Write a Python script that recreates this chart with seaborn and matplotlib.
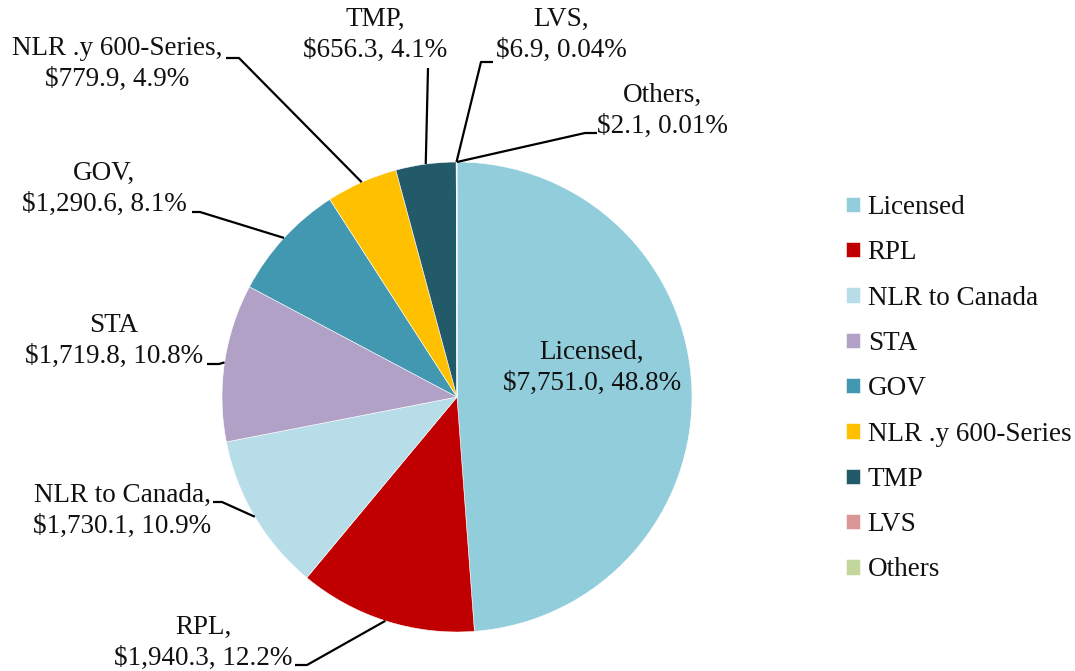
import numpy as np
import matplotlib.pyplot as plt
import seaborn as sns

categories = ['Licensed', 'RPL', 'NLR to Canada', 'STA', 'GOV',
              'NLR .y 600-Series', 'TMP', 'LVS', 'Others']
values = [7751.0, 1940.3, 1730.1, 1719.8, 1290.6, 779.9, 656.3, 6.9, 2.1]
shares = ['48.8%', '12.2%', '10.9%', '10.8%', '8.1%', '4.9%', '4.1%', '0.04%', '0.01%']
colors = ['#92cddc', '#c00000', '#b7dee8', '#b2a1c7', '#4298b0',
          '#ffc000', '#225a6a', '#d99694', '#c3d69b']

sns.set_theme(style='white')
plt.rcParams['font.family'] = ['Liberation Serif', 'DejaVu Serif']

W, H = 1075, 671
fig = plt.figure(figsize=(W / 100, H / 100), dpi=100)
ax = fig.add_axes([0, 0, 1, 1])


def px(x, y):
    # pixel position (origin top-left) -> data coords
    return x, H - y


cx, cy = px(457, 397)
wedges, _ = ax.pie(values, colors=colors, startangle=90, counterclock=False,
                   radius=235, center=(cx, cy),
                   wedgeprops=dict(linewidth=0.4, edgecolor='white'))
ax.set_xlim(0, W)
ax.set_ylim(0, H)
ax.set_aspect('equal')
ax.axis('off')

# label layout: text centre, leader start, elbow (pixels)
layout = {
    'Licensed': ((592, 368), None, None),
    'RPL': ((203, 643), (295, 665), (307, 665)),
    'NLR to Canada': ((122, 511), (213, 502), (222, 502)),
    'STA': ((114, 341), (207, 364), (219, 364)),
    'GOV': ((104, 189), (192, 212), (200, 212)),
    'NLR .y 600-Series': ((117, 64), (226, 58), (239, 58)),
    'TMP': ((375, 35), (428, 68), (428, 68)),
    'LVS': ((561, 35), (493, 62), (481, 62)),
    'Others': ((662, 111), (597, 133), (585, 133)),
}

fs = 19.5
for w, cat, val, sh in zip(wedges, categories, values, shares):
    sep = '' if cat == 'STA' else ','
    txt = f'{cat}{sep}\n${val:,.1f}, {sh}'
    (tx, ty), start, elbow = layout[cat]
    ax.text(*px(tx, ty), txt, ha='center', va='center', fontsize=fs,
            linespacing=1.3, color='#111111')
    if start is None:
        continue
    mid = np.deg2rad((w.theta1 + w.theta2) / 2)
    ex = cx + w.r * np.cos(mid)
    ey = cy + w.r * np.sin(mid)
    sx, sy = px(*start)
    bx, by = px(*elbow)
    ax.plot([sx, bx, ex], [sy, by, ey], color='black', lw=1.6,
            solid_capstyle='butt')

fig.legend(wedges, categories, loc='upper left',
           bbox_to_anchor=(846 / W, 1 - 195 / H), frameon=False,
           fontsize=fs, handlelength=0.5, handleheight=0.5,
           handletextpad=0.3, labelspacing=0.75, borderpad=0,
           borderaxespad=0, labelcolor='#111111')

fig.savefig('out.png', dpi=100)
